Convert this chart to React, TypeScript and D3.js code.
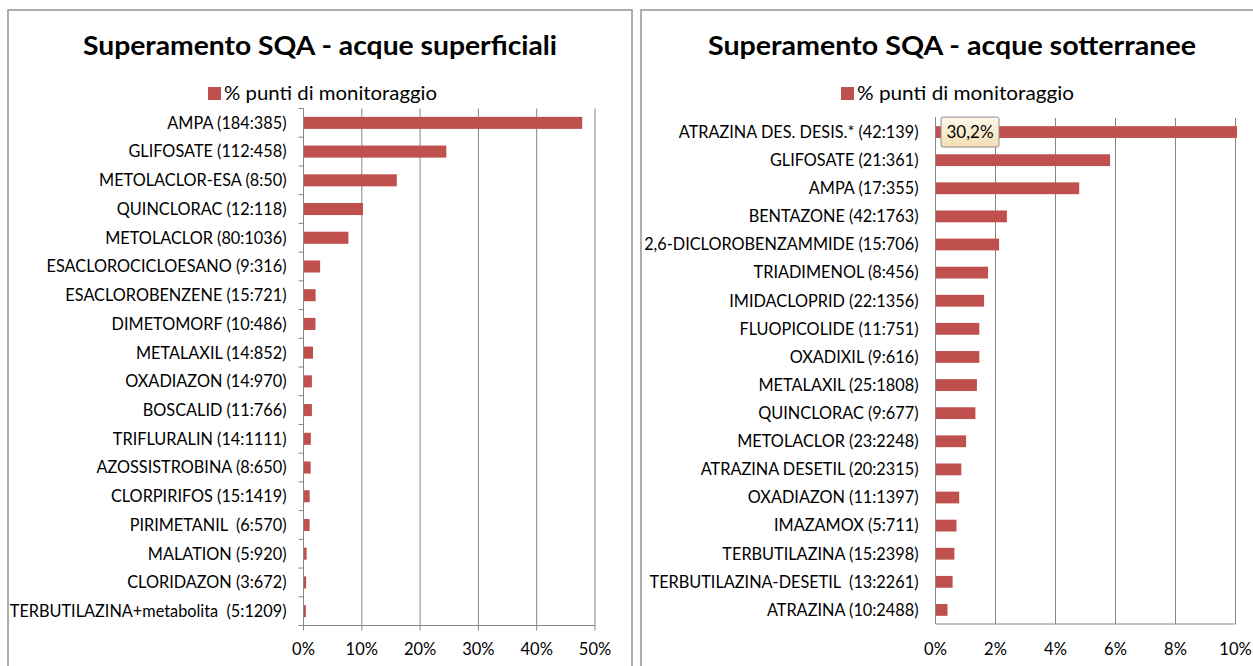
import React from "react";
import * as d3 from "d3";

const leftTitle = "Superamento SQA - acque superficiali";
const rightTitle = "Superamento SQA - acque sotterranee";
const legendLabel = "% punti di monitoraggio";

const leftCategories = [
  "AMPA (184:385)",
  "GLIFOSATE (112:458)",
  "METOLACLOR-ESA (8:50)",
  "QUINCLORAC (12:118)",
  "METOLACLOR (80:1036)",
  "ESACLOROCICLOESANO (9:316)",
  "ESACLOROBENZENE (15:721)",
  "DIMETOMORF (10:486)",
  "METALAXIL (14:852)",
  "OXADIAZON (14:970)",
  "BOSCALID (11:766)",
  "TRIFLURALIN (14:1111)",
  "AZOSSISTROBINA (8:650)",
  "CLORPIRIFOS (15:1419)",
  "PIRIMETANIL  (6:570)",
  "MALATION (5:920)",
  "CLORIDAZON (3:672)",
  "TERBUTILAZINA+metabolita  (5:1209)",
];
const leftValues = [47.8, 24.5, 16.0, 10.2, 7.7, 2.85, 2.08, 2.06, 1.64, 1.44, 1.44, 1.26, 1.23, 1.06, 1.05, 0.54, 0.45, 0.41];
const leftTicks = [0, 10, 20, 30, 40, 50];

const rightCategories = [
  "ATRAZINA DES. DESIS.* (42:139)",
  "GLIFOSATE (21:361)",
  "AMPA (17:355)",
  "BENTAZONE (42:1763)",
  "2,6-DICLOROBENZAMMIDE (15:706)",
  "TRIADIMENOL (8:456)",
  "IMIDACLOPRID (22:1356)",
  "FLUOPICOLIDE (11:751)",
  "OXADIXIL (9:616)",
  "METALAXIL (25:1808)",
  "QUINCLORAC (9:677)",
  "METOLACLOR (23:2248)",
  "ATRAZINA DESETIL (20:2315)",
  "OXADIAZON (11:1397)",
  "IMAZAMOX (5:711)",
  "TERBUTILAZINA (15:2398)",
  "TERBUTILAZINA-DESETIL  (13:2261)",
  "ATRAZINA (10:2488)",
];
const rightValues = [30.2, 5.82, 4.79, 2.38, 2.12, 1.75, 1.62, 1.46, 1.46, 1.38, 1.33, 1.02, 0.86, 0.79, 0.70, 0.63, 0.57, 0.40];
const rightTicks = [0, 2, 4, 6, 8, 10];
const rightDataLabel = "30,2%";

const BAR = "#C0504D";
const GRID = "#868686";
const FONT = "Lato, 'Liberation Sans', sans-serif";

type PanelProps = {
  px: number; pw: number;
  title: string; titleW: number;
  legendX: number; legendW: number; legendY: number;
  cats: string[]; vals: number[]; ticks: number[];
  x0: number; x1: number; y0: number; y1: number;
  catTicks: boolean; valTicks: boolean;
  dataLabel?: string;
  clipId: string;
};

function Panel(p: PanelProps) {
  const maxV = p.ticks[p.ticks.length - 1];
  const x = d3.scaleLinear().domain([0, maxV]).range([p.x0, p.x1]);
  const y = d3.scaleBand<string>().domain(p.cats).range([p.y0, p.y1]).paddingInner(0.58).paddingOuter(0.29);
  const step = y.step();
  const boundaries = d3.range(p.cats.length + 1).map((i) => p.y0 + i * step);
  const cx = p.px + p.pw / 2;
  return (
    <g>
      <rect x={p.px} y={10} width={p.pw} height={720} fill="#fff" stroke="#9a9a9a" strokeWidth={1.6} />
      <text x={cx} y={54.5} textAnchor="middle" fontFamily={FONT} fontWeight={700} fontSize={27.5}
        textLength={p.titleW} lengthAdjust="spacingAndGlyphs" fill="#000">{p.title}</text>
      <rect x={p.legendX} y={87} width={13} height={13} fill={BAR} />
      <text x={p.legendX + 16} y={p.legendY} fontFamily={FONT} fontSize={19} textLength={p.legendW}
        lengthAdjust="spacingAndGlyphs" fill="#000">{legendLabel}</text>
      <defs>
        <clipPath id={p.clipId}>
          <rect x={p.x0} y={p.y0} width={p.x1 - p.x0 + 1.5} height={p.y1 - p.y0} />
        </clipPath>
        <linearGradient id={p.clipId + "-lbl"} x1="0" y1="0" x2="0" y2="1">
          <stop offset="0" stopColor="#FFF9EA" />
          <stop offset="1" stopColor="#F2DFB3" />
        </linearGradient>
      </defs>
      {p.ticks.slice(1).map((t) => (
        <line key={t} x1={x(t)} x2={x(t)} y1={p.y0} y2={p.y1 + (p.valTicks ? 5 : 0)} stroke={GRID} strokeWidth={1} />
      ))}
      <g clipPath={`url(#${p.clipId})`}>
        {p.cats.map((c, i) => (
          <rect key={c} x={x(0)} y={y(c)!} width={x(p.vals[i]) - x(0)} height={y.bandwidth()} fill={BAR} />
        ))}
      </g>
      <line x1={p.x0} x2={p.x0} y1={p.y0 - (p.catTicks ? 0 : 1)} y2={p.y1 + (p.valTicks ? 5 : 0)} stroke={GRID} strokeWidth={1} />
      <line x1={p.x0} x2={p.x1} y1={p.y1} y2={p.y1} stroke={GRID} strokeWidth={1} />
      {p.catTicks && boundaries.map((b, i) => (
        <line key={i} x1={p.x0 - 5} x2={p.x0} y1={b} y2={b} stroke={GRID} strokeWidth={1} />
      ))}
      {p.cats.map((c) => (
        <text key={c} x={p.x0 - 17} y={y(c)! + y.bandwidth() / 2} dy="0.36em" textAnchor="end"
          fontFamily={FONT} fontSize={16.3} fill="#000" style={{ whiteSpace: "pre" }}>{c}</text>
      ))}
      {p.ticks.map((t) => (
        <text key={t} x={x(t)} y={655} textAnchor="middle" fontFamily={FONT} fontSize={16.5} fill="#000">{t + "%"}</text>
      ))}
      {p.dataLabel && (
        <g>
          <rect x={x(0) + 5.5} y={y(p.cats[0])! + y.bandwidth() / 2 - 15} width={58} height={30} rx={2}
            fill={`url(#${p.clipId}-lbl)`} stroke="#8f8f8f" strokeWidth={1} />
          <text x={x(0) + 34.5} y={y(p.cats[0])! + y.bandwidth() / 2} dy="0.36em" textAnchor="middle"
            fontFamily={FONT} fontSize={17} fill="#000">{p.dataLabel}</text>
        </g>
      )}
    </g>
  );
}

export default function App() {
  return (
    <svg width={1253} height={666} style={{ position: "absolute", left: 0, top: 0, display: "block", background: "#fff" }}>
      <rect x={0} y={0} width={1253} height={666} fill="#fff" />
      <Panel px={8} pw={624} title={leftTitle} titleW={474} legendX={208} legendW={213} legendY={100}
        cats={leftCategories} vals={leftValues} ticks={leftTicks}
        x0={303.5} x1={595} y0={108.5} y1={625.5} catTicks={true} valTicks={true} clipId="clipL" />
      <Panel px={641} pw={622} title={rightTitle} titleW={488} legendX={841} legendW={217} legendY={100}
        cats={rightCategories} vals={rightValues} ticks={rightTicks}
        x0={935.5} x1={1235.5} y0={118} y1={624} catTicks={false} valTicks={false}
        dataLabel={rightDataLabel} clipId="clipR" />
    </svg>
  );
}
